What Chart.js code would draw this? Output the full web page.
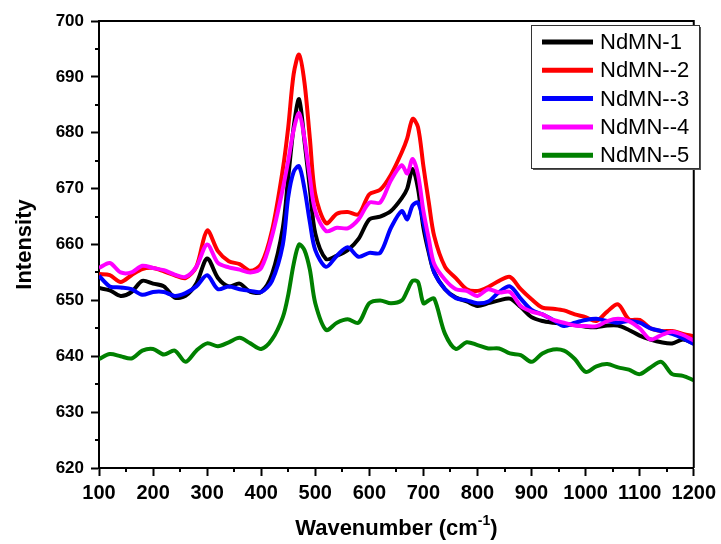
<!DOCTYPE html>
<html>
<head>
<meta charset="utf-8">
<script src="https://cdn.jsdelivr.net/npm/chart.js@4.4.1/dist/chart.umd.min.js"></script>
<style>
  html, body { margin: 0; padding: 0; background: #fff; }
  #wrap { width: 721px; height: 544px; }
</style>
</head>
<body>
<div id="wrap"><canvas id="raman" width="721" height="544"></canvas></div>
<script>
// Raman spectra of NdMN samples

const wavenumbers = [100, 120, 140, 160, 180, 200, 220, 240, 260, 280, 300, 320, 340, 360, 380, 400, 420,
    440, 450, 460, 470, 480, 490, 500, 520, 540, 560, 580, 600, 620, 640, 660,
    670, 680, 690, 700, 710, 720, 740, 760, 780, 800, 820, 840, 860, 880, 900, 920,
    940, 960, 980, 1000, 1020, 1040, 1060, 1080, 1100, 1120, 1140, 1160, 1180, 1200];

const ndmn1 = [652.2, 651.8, 650.8, 651.5, 653.5, 653, 652.5, 650.5, 650.8, 653, 657.5, 654, 652.5, 653, 651.5, 651.5, 654.7,
    663, 672, 681, 686, 678.5, 670, 662, 657.4, 658, 659, 661, 664.5, 665, 666, 668.3,
    670, 673.5, 670, 663, 658.5, 655, 652, 650.5, 649.8, 649, 649.5, 650, 650.3, 648.8, 647, 646.3,
    646, 645.8, 645.6, 645.3, 645.2, 645.5, 645.5, 644.7, 643.7, 643, 642.5, 642.3, 643, 642.3];

const ndmn2 = [654.7, 654.5, 653.3, 654.5, 655.6, 655.8, 655.2, 654.5, 654, 656, 662.5, 658.8, 657, 656.5, 655.3, 656.5, 662.5,
    673.5, 681, 690.5, 694, 689, 679, 669, 663.8, 665.5, 665.8, 665.4, 669, 669.8, 672.5, 676.5,
    679, 682.5, 681, 674, 667.5, 661.5, 656, 654, 652, 651.7, 652.4, 653.5, 654.2, 652, 650.2, 648.7,
    648.5, 648.2, 647.5, 647, 646.3, 648, 649.3, 646.6, 646.5, 645, 644.5, 644.5, 644, 643.6];

const ndmn3 = [654.4, 652.5, 652.3, 652, 651, 651.5, 651.5, 650.8, 651.3, 652.5, 654.5, 652, 652.5, 652, 651.7, 651.5, 653.5,
    660, 668.5, 673, 674, 670, 664, 659, 656, 658, 659.5, 657.8, 658.5, 658.5, 663, 666,
    664.5, 667, 667.5, 664, 659, 655, 652, 650.4, 650, 649.5, 649.8, 651.5, 652.5, 650.3, 648.3, 647.5,
    646.5, 645.4, 646, 646.5, 646.7, 646.3, 646, 646.3, 646, 645, 644.5, 644, 643.2, 642.2];

const ndmn4 = [655.8, 656.7, 655, 655, 656.2, 655.8, 655.4, 654.6, 654.2, 656, 660, 656.7, 655.9, 655.5, 655, 655.8, 661.5,
    670, 675, 680.5, 683.5, 679, 672, 666, 662.4, 663, 662.9, 664.5, 667.5, 667.5, 671.5, 674.2,
    672.7, 675.3, 672.5, 666, 661, 656.5, 653.7, 652, 651.7, 650.8, 652, 651.4, 651.5, 649, 648, 647.5,
    646.5, 646, 645.5, 645.4, 645.4, 646.3, 646.7, 646.3, 645, 643, 643.8, 644.4, 643.8, 642.8];

const ndmn5 = [639.5, 640.4, 640, 639.6, 641, 641.3, 640.3, 641, 639, 641, 642.3, 641.8, 642.5, 643.3, 642.3, 641.3, 643,
    647, 651, 656.5, 660, 659, 655.5, 649.5, 644.7, 646, 646.6, 646, 649.5, 650, 649.5, 650,
    651.7, 653.5, 653.3, 649.5, 650, 650.3, 644, 641.3, 642.5, 642, 641.4, 641.4, 640.5, 640.2, 639, 640.5,
    641.2, 641, 639.5, 637.2, 638.2, 638.6, 638, 637.6, 636.8, 638, 639, 636.8, 636.5, 635.7];

const seriesNames = ['NdMN-1', 'NdMN--2', 'NdMN--3', 'NdMN--4', 'NdMN--5'];
const seriesColors = ['#000000', '#ff0000', '#0000ff', '#ff00ff', '#008000'];
const seriesValues = [ndmn1, ndmn2, ndmn3, ndmn4, ndmn5];

const xTitle = 'Wavenumber (cm';
const yTitle = 'Intensity';

const FONT = "'Liberation Sans', Arial, sans-serif";

// frame, minor ticks, axis titles and the boxed legend
const decorations = {
    id: 'decorations',
    afterDraw(chart) {
        const ctx = chart.ctx;
        const area = chart.chartArea;
        const xs = chart.scales.x;
        const ys = chart.scales.y;

        ctx.save();
        ctx.strokeStyle = '#000';
        ctx.lineWidth = 2;

        // top and right frame lines
        ctx.beginPath();
        ctx.moveTo(area.left, area.top);
        ctx.lineTo(area.right, area.top);
        ctx.lineTo(area.right, area.bottom);
        ctx.stroke();

        // minor ticks
        ctx.beginPath();
        for (let v = 625; v < 700; v += 10) {
            const py = Math.round(ys.getPixelForValue(v));
            ctx.moveTo(area.left, py);
            ctx.lineTo(area.left - 4, py);
        }
        for (let v = 150; v < 1200; v += 100) {
            const px = Math.round(xs.getPixelForValue(v));
            ctx.moveTo(px, area.bottom);
            ctx.lineTo(px, area.bottom + 4);
        }
        ctx.stroke();

        // axis titles
        ctx.fillStyle = '#000';
        ctx.font = 'bold 22px ' + FONT;
        ctx.textBaseline = 'alphabetic';
        const mainW = ctx.measureText(xTitle).width;
        ctx.font = 'bold 14px ' + FONT;
        const supW = ctx.measureText('-1').width;
        ctx.font = 'bold 22px ' + FONT;
        const closeW = ctx.measureText(')').width;
        let tx = (area.left + area.right) / 2 - (mainW + supW + closeW) / 2;
        const ty = 535;
        ctx.textAlign = 'left';
        ctx.fillText(xTitle, tx, ty);
        tx += mainW;
        ctx.font = 'bold 14px ' + FONT;
        ctx.fillText('-1', tx, ty - 10);
        tx += supW;
        ctx.font = 'bold 22px ' + FONT;
        ctx.fillText(')', tx, ty);

        ctx.save();
        ctx.translate(25, (area.top + area.bottom) / 2);
        ctx.rotate(-Math.PI / 2);
        ctx.textAlign = 'center';
        ctx.textBaseline = 'middle';
        ctx.fillText(yTitle, 0, 0);
        ctx.restore();

        // legend box
        const bx = 531, by = 25, bw = 168, bh = 143;
        ctx.fillStyle = '#555';
        ctx.fillRect(bx + 2, by + 2, bw, bh);
        ctx.fillStyle = '#fff';
        ctx.fillRect(bx, by, bw, bh);
        ctx.lineWidth = 1;
        ctx.strokeStyle = '#333';
        ctx.strokeRect(bx + 0.5, by + 0.5, bw, bh);

        ctx.font = '22px ' + FONT;
        ctx.textAlign = 'left';
        ctx.textBaseline = 'middle';
        chart.data.datasets.forEach((ds, i) => {
            const ry = 42 + i * 28.3;
            ctx.strokeStyle = ds.borderColor;
            ctx.lineWidth = 5;
            ctx.beginPath();
            ctx.moveTo(542, ry);
            ctx.lineTo(593, ry);
            ctx.stroke();
            ctx.fillStyle = '#000';
            ctx.fillText(ds.label, 600, ry + 1);
        });
        ctx.restore();
    }
};

const ctx = document.getElementById('raman').getContext('2d');

new Chart(ctx, {
    type: 'line',
    data: {
        datasets: seriesValues.map((vals, i) => ({
            label: seriesNames[i],
            data: wavenumbers.map((w, j) => ({ x: w, y: vals[j] })),
            borderColor: seriesColors[i],
            backgroundColor: seriesColors[i],
            borderWidth: 4,
            pointRadius: 0,
            tension: 0.3,
            fill: false,
            order: 5 - i
        }))
    },
    options: {
        responsive: false,
        animation: false,
        devicePixelRatio: 1,
        layout: {
            padding: { top: 21, right: 25, left: 0, bottom: 0 }
        },
        plugins: {
            legend: { display: false },
            tooltip: { enabled: false }
        },
        scales: {
            x: {
                type: 'linear',
                min: 100,
                max: 1200,
                afterFit(scale) { scale.height = 76; },
                border: { display: true, color: '#000', width: 2 },
                grid: {
                    drawOnChartArea: false,
                    drawTicks: true,
                    tickLength: 8,
                    tickWidth: 2,
                    tickColor: '#000'
                },
                ticks: {
                    stepSize: 100,
                    color: '#000',
                    padding: 5,
                    maxRotation: 0,
                    autoSkip: false,
                    callback: (v) => String(v),
                    font: { family: FONT, size: 20, weight: 'bold' }
                }
            },
            y: {
                min: 620,
                max: 700,
                afterFit(scale) { scale.width = 99; },
                border: { display: true, color: '#000', width: 2 },
                grid: {
                    drawOnChartArea: false,
                    drawTicks: true,
                    tickLength: 8,
                    tickWidth: 2,
                    tickColor: '#000'
                },
                ticks: {
                    stepSize: 10,
                    color: '#000',
                    padding: 7,
                    callback: (v) => String(v),
                    font: { family: FONT, size: 17, weight: 'bold' }
                }
            }
        }
    },
    plugins: [decorations]
});
</script>
</body>
</html>
